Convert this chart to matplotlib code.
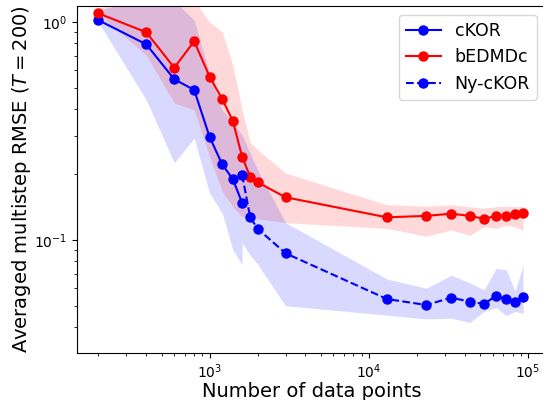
import numpy as np
import matplotlib.pyplot as plt

# --- data ------------------------------------------------------------------
# number of data points
n_ckor = [200, 400, 600, 800, 1000, 1200, 1400, 1600]
n_bedmdc = [200, 400, 600, 800, 1000, 1200, 1400, 1600, 1800, 2000,
            3000, 13000, 23000, 33000, 43000, 53000, 63000, 73000, 83000, 93000]
n_ny = [1600, 1800, 2000, 3000, 13000, 23000, 33000, 43000, 53000,
        63000, 73000, 83000, 93000]

# mean RMSE
rmse_ckor = [1.02, 0.79, 0.546, 0.488, 0.297, 0.222, 0.19, 0.148]
rmse_bedmdc = [1.096, 0.897, 0.617, 0.816, 0.561, 0.443, 0.351, 0.241, 0.1945, 0.184,
               0.157, 0.127, 0.129, 0.132, 0.129, 0.125, 0.129, 0.129, 0.1316, 0.1326]
rmse_ny = [0.199, 0.127, 0.1127, 0.0869, 0.0536, 0.0503, 0.0544, 0.0521, 0.0509,
           0.0554, 0.0535, 0.0519, 0.0546]

# spread bands (lower / upper)
lo_ckor = [1.0, 0.439, 0.226, 0.293, 0.164, 0.133, 0.090, 0.077]
hi_ckor = [1.13, 1.3, 1.25, 1.02, 0.577, 0.395, 0.348, 0.303]
lo_bedmdc = [1.09, 0.705, 0.425, 0.395, 0.241, 0.167, 0.142, 0.128, 0.13, 0.125,
             0.12, 0.113, 0.104, 0.111, 0.105, 0.115, 0.113, 0.117, 0.115, 0.111]
hi_bedmdc = [1.155, 1.35, 1.35, 1.25, 1.0, 0.90, 0.635, 0.395, 0.28, 0.26,
             0.203, 0.145, 0.143, 0.145, 0.142, 0.14, 0.142, 0.143, 0.142, 0.143]
lo_ny = [0.097, 0.085, 0.0775, 0.0499, 0.0452, 0.0434, 0.0438, 0.0418, 0.047,
         0.049, 0.045, 0.047, 0.046]
hi_ny = [0.303, 0.25, 0.21, 0.12, 0.0662, 0.0601, 0.069, 0.0636, 0.0591,
         0.074, 0.073, 0.058, 0.077]

# --- plot -------------------------------------------------------------------
fig = plt.figure(figsize=(5.43, 4.0), dpi=100)
ax = fig.add_axes([77 / 543, 47 / 400, 468.5 / 543, 347 / 400])

ax.fill_between(n_ckor, lo_ckor, hi_ckor, color='blue', alpha=0.15, linewidth=0)
ax.fill_between(n_bedmdc, lo_bedmdc, hi_bedmdc, color='red', alpha=0.15, linewidth=0)
ax.fill_between(n_ny, lo_ny, hi_ny, color='blue', alpha=0.15, linewidth=0)

ax.plot(n_ckor, rmse_ckor, 'o-', color='blue', markersize=6.5, label='cKOR')
ax.plot(n_bedmdc, rmse_bedmdc, 'o-', color='red', markersize=6.5, label='bEDMDc')
ax.plot(n_ny, rmse_ny, 'o--', color='blue', markersize=6.5, label='Ny-cKOR')

ax.set_xscale('log')
ax.set_yscale('log')
ax.set_xlim(10 ** 2.167, 10 ** 5.11)
ax.set_ylim(0.0303, 1.184)

ax.set_xlabel('Number of data points', fontsize=14, labelpad=0.5)
ax.set_ylabel('Averaged multistep RMSE ($T = 200$)', fontsize=14, labelpad=1)
ax.legend(loc='upper right', fontsize=12.5)

fig.savefig('out.png', dpi=100)
